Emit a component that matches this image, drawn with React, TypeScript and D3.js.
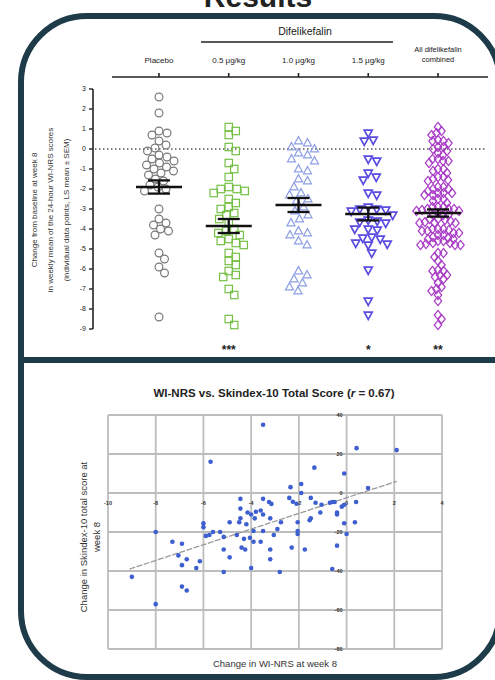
import React from "react";
import * as d3 from "d3";

// top panel: change from baseline in WI-NRS at week 8
const groups = ["Placebo", "0.5 μg/kg", "1.0 μg/kg", "1.5 μg/kg", "All difelikefalin combined"];
const placebo = [2.6, 1.8, 0.9, 0.8, 0.7, 0.4, 0.2, 0.05, -0.1, -0.3, -0.4, -0.5, -0.6, -0.7, -0.8, -0.9, -1.0, -1.1, -1.2, -1.3, -1.5, -1.6, -1.8, -1.9, -2.0, -2.1, -3.0, -3.5, -3.7, -3.8, -4.0, -4.1, -4.3, -5.2, -5.5, -5.9, -6.2, -8.4];
const dose05 = [1.1, 0.9, 0.7, 0.1, -0.1, -0.7, -1.0, -1.4, -1.9, -2.0, -2.0, -2.1, -2.2, -2.5, -2.7, -2.9, -3.0, -3.2, -3.3, -3.5, -3.7, -4.0, -4.1, -4.2, -4.3, -4.5, -4.6, -4.7, -4.8, -5.2, -5.4, -5.6, -5.8, -6.1, -6.3, -6.4, -7.0, -7.3, -8.5, -8.8];
const dose10 = [0.4, 0.3, 0.1, 0.0, -0.2, -0.3, -0.5, -0.6, -1.0, -1.1, -1.5, -1.6, -1.9, -2.2, -2.3, -2.5, -2.6, -2.9, -3.1, -3.3, -3.5, -3.7, -4.1, -4.2, -4.3, -4.6, -4.8, -6.1, -6.3, -6.5, -6.7, -6.9, -7.1];
const dose15 = [0.8, 0.45, 0.4, -0.5, -0.6, -1.2, -1.4, -1.55, -2.2, -2.3, -2.9, -3.0, -3.0, -3.05, -3.1, -3.3, -3.55, -3.6, -3.65, -3.7, -4.0, -4.0, -4.05, -4.4, -4.45, -4.5, -4.7, -4.75, -4.8, -5.2, -6.05, -7.6, -8.3];
const combined = [...dose05, ...dose10, ...dose15];
const lsMeans = [-1.9, -3.85, -2.8, -3.25, -3.2];
const sems = [0.33, 0.35, 0.35, 0.32, 0.18];
const stars = ["", "***", "", "*", "**"];
const yTicks = [3, 2, 1, 0, -1, -2, -3, -4, -5, -6, -7, -8, -9];

// bottom panel: WI-NRS vs Skindex-10
const wiNrs = [-9.0, -8.0, -8.0, -7.3, -6.9, -7.05, -6.7, -6.9, -6.3, -6.15, -6.9, -6.7, -5.7, -6.0, -6.0, -5.9, -5.75, -5.6, -5.3, -5.15, -5.15, -4.9, -5.15, -4.6, -4.3, -4.4, -4.25, -4.05, -3.9, -3.6, -4.0, -3.9, -3.5, -3.2, -3.2, -3.05, -2.9, -2.8, -2.3, -2.05, -2.05, -1.75, -0.6, -0.4, 0.0, -4.9, -4.5, -4.45, -4.2, -4.15, -4.0, -3.85, -3.8, -3.6, -3.5, -3.2, -2.75, -4.45, -4.45, -3.5, -3.25, -3.15, -3.5, -1.35, -0.1, -2.35, -1.9, -1.9, -1.5, -2.4, -2.25, -2.1, -1.3, -1.1, -1.5, -1.05, -0.7, -0.5, -0.4, -0.1, -0.1, -2.05, -1.55, 0.42, 2.1, 0.9, -0.6, -0.2, 0.4, -0.4, 0.35];
const skindex = [-43, -20, -57, -25, -26, -32, -34, -37, -38.5, -35, -48, -50, 16, -15.5, -17.5, -22, -21.5, -20, -20, -22.5, -29, -33, -40.5, -21.5, -23.5, -28, -29, -23, -25, -25, -38.5, -19.5, -19.5, -29, -34, -21.5, -18.5, -40.5, -28, -19.5, -21, -29, -39, -27, -21, -15, -15, -13, -16, -10, -11, -13, -9.6, -9, -11, -13, -15, -3, -8, -3, -4.6, -5.6, 35, 13, 10, 3, 4.6, 0, -2.5, -2.5, -4.5, -5.5, -5, -10, -13, -6, -5, -4.6, -10, -15.5, -6, -15, -14, 23, 22, 2.6, -4.6, -7, -4.6, -11, -15];
const fitLine = [[-9.1, -39], [2.1, 6]];
const xTicksB = [-10, -8, -6, -4, -2, 0, 2, 4];
const yTicksB = [40, 20, 0, -20, -40, -60, -80];

const FONT = "'Liberation Sans', Arial, sans-serif";
const FRAME = "#1d3b48";
const colors = ["#7a7a7a", "#74c044", "#8d9fe4", "#5a4ce0", "#a83cc6"];

function swarm(py: number[], d: number) {
  const placed: [number, number][] = [];
  const out = new Array(py.length).fill(0);
  const order = d3.range(py.length).sort((a, b) => py[a] - py[b]);
  for (const i of order) {
    for (let k = 0; k < 400; k++) {
      const off = k === 0 ? 0 : (k % 2 ? 1 : -1) * Math.ceil(k / 2) * 0.5;
      if (placed.every(([px, pq]) => (px - off) ** 2 + (pq - py[i]) ** 2 >= d * d)) {
        out[i] = off;
        placed.push([off, py[i]]);
        break;
      }
    }
  }
  return out;
}

function Marker({ g, x, y }: { g: number; x: number; y: number }) {
  const c = colors[g];
  const t = `translate(${x},${y})`;
  if (g === 0) return <circle cx={x} cy={y} r={3.9} fill="none" stroke={c} strokeWidth={1.2} />;
  if (g === 1) return <rect x={x - 3.7} y={y - 3.7} width={7.4} height={7.4} fill="none" stroke={c} strokeWidth={1.2} />;
  if (g === 2) return <path transform={t} d="M0,-4.4L4,2.8L-4,2.8Z" fill="none" stroke={c} strokeWidth={1.2} />;
  if (g === 3) return <path transform={t} d="M0,4.4L4,-2.8L-4,-2.8Z" fill="none" stroke={c} strokeWidth={1.7} />;
  return <path transform={t} d="M0,-4.6L3.7,0L0,4.6L-3.7,0Z" fill="none" stroke={c} strokeWidth={1.2} />;
}

export default function App() {
  const x = d3.scalePoint<string>().domain(groups).range([159, 438]);
  const y = d3.scaleLinear().domain([-9, 3]).range([329, 89]);
  const series = [placebo, dose05, dose10, dose15, combined];
  const spacing = [8, 8, 9, 8.6, 5.3];

  const sx = d3.scaleLinear().domain([-10, 4]).range([108, 442]);
  const sy = d3.scaleLinear().domain([-80, 40]).range([649, 415]);

  return (
    <svg width={495} height={680} style={{ position: "absolute", left: 0, top: 0, background: "#fff" }} fontFamily={FONT}>
      <text x={258} y={7} textAnchor="middle" fontSize={30} fontWeight="bold" fill="#222">Results</text>
      <rect x={21} y={16} width={479} height={661} rx={66} fill="none" stroke={FRAME} strokeWidth={6} />
      <line x1={21} x2={500} y1={360} y2={360} stroke={FRAME} strokeWidth={6} />

      {/* header */}
      <text x={305} y={35} textAnchor="middle" fontSize={10.5} fill="#1a1a1a">Difelikefalin</text>
      <line x1={201} x2={393} y1={42} y2={42} stroke="#222" strokeWidth={1.6} />
      {groups.map((g, i) =>
        i < 4 ? (
          <text key={g} x={x(g)} y={63} textAnchor="middle" fontSize={8} fill="#222">{g}</text>
        ) : (
          <text key={g} x={x(g)} y={52} textAnchor="middle" fontSize={7.5} fill="#222">
            <tspan x={x(g)}>All difelikefalin</tspan>
            <tspan x={x(g)} dy={10}>combined</tspan>
          </text>
        )
      )}
      <line x1={112} x2={488} y1={77} y2={77} stroke="#222" strokeWidth={1.6} />
      {groups.map((g) => (
        <line key={g} x1={x(g)} x2={x(g)} y1={73} y2={77} stroke="#222" strokeWidth={1.6} />
      ))}

      {/* y axis */}
      <line x1={93} x2={93} y1={y(3)} y2={y(-9)} stroke="#222" strokeWidth={1.6} />
      {yTicks.map((t) => (
        <g key={t}>
          <line x1={89} x2={93} y1={y(t)} y2={y(t)} stroke="#222" strokeWidth={1.4} />
          <text x={86} y={y(t)} dy="0.35em" textAnchor="end" fontSize={7} fill="#222">{t}</text>
        </g>
      ))}
      <g transform="translate(0,210) rotate(-90)" fontSize={8} fill="#333" textAnchor="middle">
        <text x={0} y={37}>Change from baseline at week 8</text>
        <text x={0} y={53}>in weekly mean of the 24-hour WI-NRS scores</text>
        <text x={0} y={69}>(individual data points, LS mean ± SEM)</text>
      </g>
      <line x1={95} x2={487} y1={y(0)} y2={y(0)} stroke="#555" strokeWidth={1.5} strokeDasharray="1.5,2.5" />

      {/* swarms */}
      {series.map((vals, gi) => {
        const cx = x(groups[gi])!;
        const py = vals.map((v) => y(v));
        const offs = swarm(py, spacing[gi]);
        return (
          <g key={gi}>
            {vals.map((v, i) => (
              <Marker key={i} g={gi} x={cx + offs[i]} y={py[i]} />
            ))}
          </g>
        );
      })}

      {/* LS mean ± SEM */}
      {groups.map((g, i) => {
        const cx = x(g)!;
        const m = lsMeans[i];
        const s = sems[i];
        return (
          <g key={g} stroke="#111" strokeWidth={2.3}>
            <line x1={cx - 23} x2={cx + 23} y1={y(m)} y2={y(m)} />
            <line x1={cx} x2={cx} y1={y(m + s)} y2={y(m - s)} />
            <line x1={cx - 11} x2={cx + 11} y1={y(m + s)} y2={y(m + s)} />
            <line x1={cx - 11} x2={cx + 11} y1={y(m - s)} y2={y(m - s)} />
          </g>
        );
      })}
      {groups.map((g, i) => (
        <text key={g} x={x(g)} y={354} textAnchor="middle" fontSize={12} fontWeight="bold" fill="#222">{stars[i]}</text>
      ))}

      {/* bottom scatter */}
      <text x={274} y={397} textAnchor="middle" fontSize={11.5} fontWeight="bold" fill="#222">
        WI-NRS vs. Skindex-10 Total Score (<tspan fontStyle="italic">r</tspan> = 0.67)
      </text>
      {xTicksB.map((t) => (
        <line key={"gx" + t} x1={sx(t)} x2={sx(t)} y1={sy(40)} y2={sy(-80)} stroke="#bdbdbd" strokeWidth={1.8} />
      ))}
      {yTicksB.map((t) => (
        <line key={"gy" + t} x1={sx(-10)} x2={sx(4)} y1={sy(t)} y2={sy(t)} stroke="#bdbdbd" strokeWidth={1.8} />
      ))}
      {xTicksB.map((t) => (
        <text key={"lx" + t} x={sx(t)} y={sy(0) + 12} textAnchor="middle" fontSize={5.5} fontWeight="bold" fill="#333">{t}</text>
      ))}
      {yTicksB.map((t) => (
        <text key={"ly" + t} x={sx(0) - 4} y={sy(t)} dy="0.35em" textAnchor="end" fontSize={5.5} fontWeight="bold" fill="#333">{t}</text>
      ))}
      <line x1={sx(fitLine[0][0])} y1={sy(fitLine[0][1])} x2={sx(fitLine[1][0])} y2={sy(fitLine[1][1])} stroke="#9a9a9a" strokeWidth={1.3} strokeDasharray="6,1.5" />
      {wiNrs.map((v, i) => (
        <circle key={i} cx={sx(v)} cy={sy(skindex[i])} r={2.3} fill="#3d5fcf" />
      ))}
      <text x={275} y={667} textAnchor="middle" fontSize={9.5} fill="#333">Change in WI-NRS at week 8</text>
      <g transform="translate(0,537) rotate(-90)" fontSize={9.5} fill="#333" textAnchor="middle">
        <text x={0} y={87}>Change in Skindex-10 total score at</text>
        <text x={0} y={100}>week 8</text>
      </g>
    </svg>
  );
}
